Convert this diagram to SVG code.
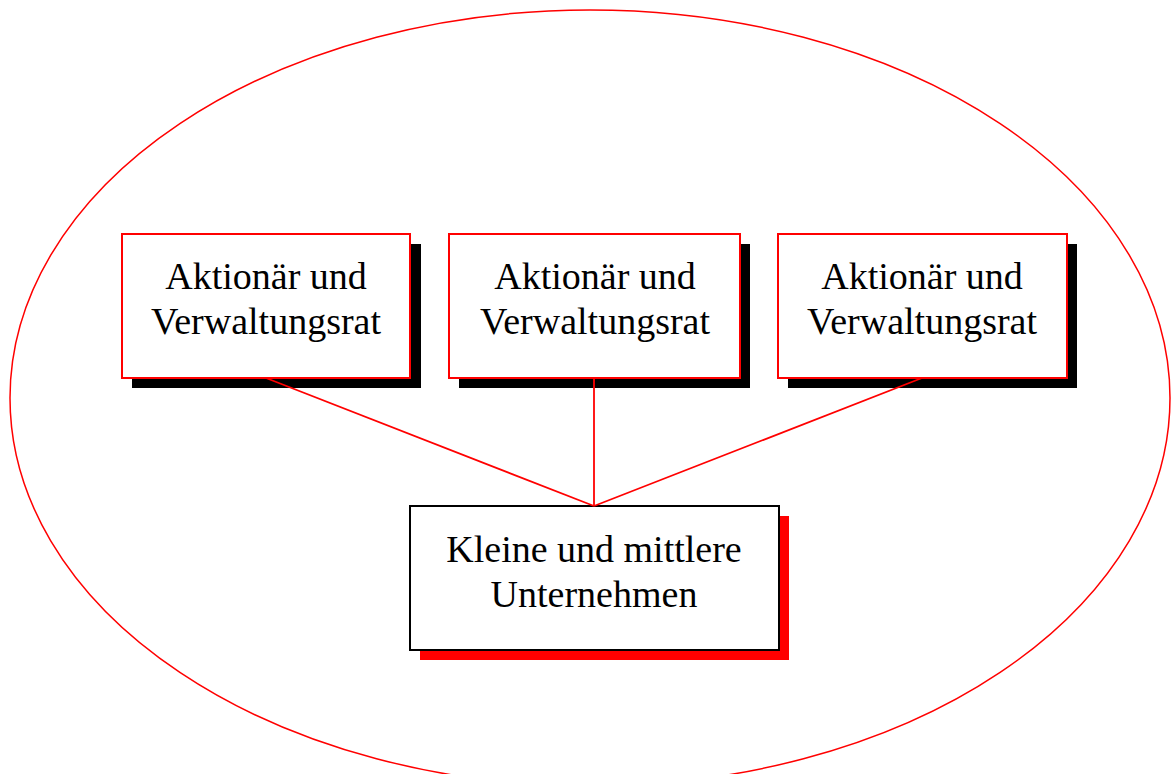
<svg xmlns="http://www.w3.org/2000/svg" width="1171" height="774" viewBox="0 0 1171 774">
  <style>
    .lbl { font-family: "Liberation Serif", "Times New Roman", serif; font-size: 38px; fill: #000; text-anchor: middle; }
    .box { fill: #fff; stroke: #ff0000; stroke-width: 2; }
    .box-dark { fill: #fff; stroke: #000; stroke-width: 2; }
    .link { stroke: #ff0000; stroke-width: 1.8; fill: none; }
  </style>
  <rect width="1171" height="774" fill="#fff"/>

  <!-- enclosing boundary -->
  <ellipse id="boundary" cx="590" cy="398" rx="580" ry="388" fill="none" stroke="#ff0000" stroke-width="1.5"/>

  <g id="node-aktionaer-1">
    <rect x="132" y="244" width="289" height="144" fill="#000"/>
    <rect class="box" x="122" y="234" width="288" height="144"/>
    <text class="lbl" x="266" y="289">Aktionär und</text>
    <text class="lbl" x="266" y="334">Verwaltungsrat</text>
  </g>

  <g id="node-aktionaer-2">
    <rect x="459" y="244" width="291" height="144" fill="#000"/>
    <rect class="box" x="449" y="234" width="291" height="144"/>
    <text class="lbl" x="595" y="289">Aktionär und</text>
    <text class="lbl" x="595" y="334">Verwaltungsrat</text>
  </g>

  <g id="node-aktionaer-3">
    <rect x="788" y="244" width="289" height="144" fill="#000"/>
    <rect class="box" x="778" y="234" width="289" height="144"/>
    <text class="lbl" x="922" y="289">Aktionär und</text>
    <text class="lbl" x="922" y="334">Verwaltungsrat</text>
  </g>

  <g id="node-kmu">
    <rect x="420" y="516" width="369" height="144" fill="#ff0000"/>
    <rect class="box-dark" x="410" y="506" width="369" height="144"/>
    <text class="lbl" x="594" y="562">Kleine und mittlere</text>
    <text class="lbl" x="594" y="607">Unternehmen</text>
  </g>

  <!-- connectors drawn on top of the shadows -->
  <g id="connectors">
    <line class="link" x1="266" y1="378" x2="594" y2="506"/>
    <line class="link" x1="594" y1="378" x2="594" y2="506"/>
    <line class="link" x1="922" y1="378" x2="594" y2="506"/>
  </g>
</svg>
